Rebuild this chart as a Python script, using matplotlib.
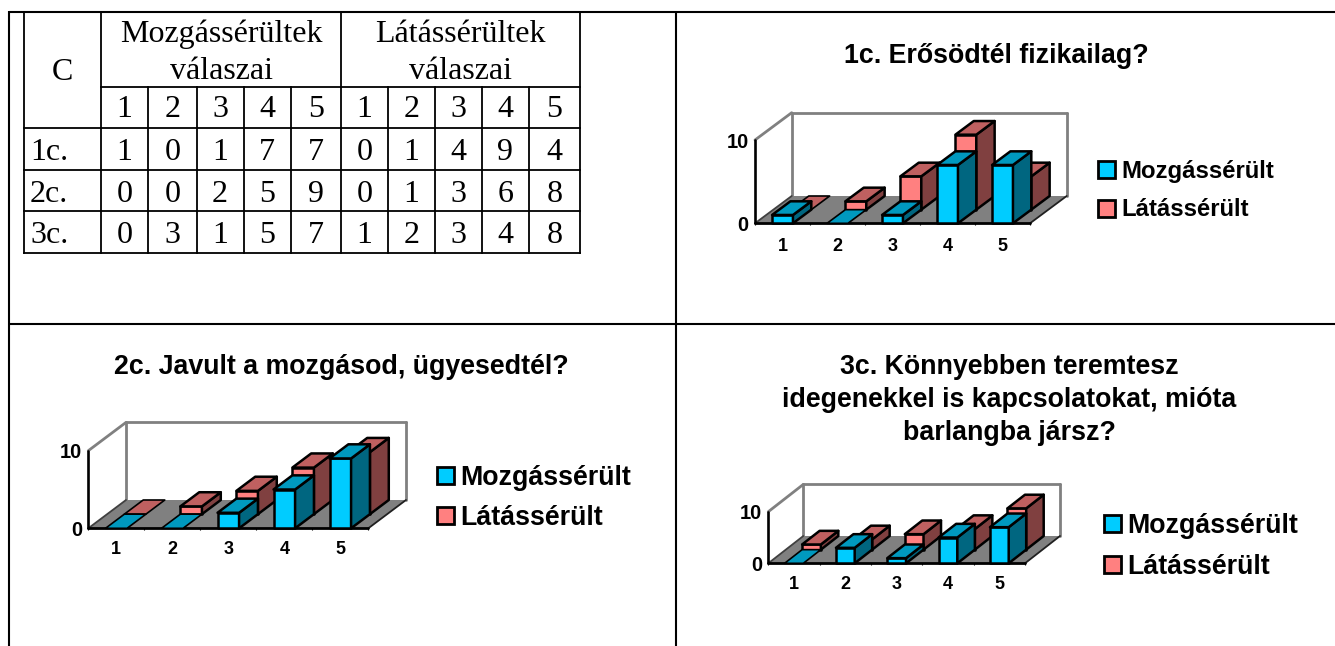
import matplotlib
matplotlib.use("Agg")
import matplotlib.pyplot as plt
from matplotlib.patches import Patch
from matplotlib.transforms import IdentityTransform

W, H = 1335, 646

# ---- data ----
categories = ["1", "2", "3", "4", "5"]
rows = ["1c.", "2c.", "3c."]
mozgas_1c = [1, 0, 1, 7, 7]
latas_1c = [0, 1, 4, 9, 4]
mozgas_2c = [0, 0, 2, 5, 9]
latas_2c = [0, 1, 3, 6, 8]
mozgas_3c = [0, 3, 1, 5, 7]
latas_3c = [1, 2, 3, 4, 8]
series_names = ["Mozgássérült", "Látássérült"]
header_mozgas = "Mozgássérültek\nválaszai"
header_latas = "Látássérültek\nválaszai"
title_1c = "1c. Erősödtél fizikailag?"
title_2c = "2c. Javult a mozgásod, ügyesedtél?"
title_3c = ["3c. Könnyebben teremtesz", "idegenekkel is kapcsolatokat, mióta", "barlangba jársz?"]

FRONT = ["#00CCFF", "#FF8080"]
TOP = ["#0099BF", "#BF6060"]
SIDE = ["#006680", "#804040"]
SANS = "Liberation Sans"
SERIF = "Liberation Serif"

fig = plt.figure(figsize=(W / 100, H / 100), dpi=100, facecolor="white")

# ---- page frame and table (pixel coordinates) ----
page = fig.add_axes([0, 0, 1, 1])
page.set_xlim(0, W)
page.set_ylim(H, 0)
page.axis("off")

for xs, ys in [((9, W), (11.5, 11.5)), ((9, 9), (11, H)), ((676, 676), (11, H)), ((9, W), (324, 324))]:
    page.plot(xs, ys, color="black", lw=1.5, solid_capstyle="butt")

col_x = [23.5, 101, 148, 196.5, 243.5, 290.5, 341, 388, 435, 482, 529, 580]
row_y = [12, 87, 127.5, 170, 211, 252.5]
TL = dict(color="black", lw=1.3, solid_capstyle="projecting")
page.plot([col_x[0], col_x[-1]], [row_y[0]] * 2, **TL)
page.plot([col_x[1], col_x[-1]], [row_y[1]] * 2, **TL)
for y in row_y[2:]:
    page.plot([col_x[0], col_x[-1]], [y, y], **TL)
for x in (col_x[0], col_x[1], col_x[6], col_x[11]):
    page.plot([x, x], [row_y[0], row_y[-1]], **TL)
for x in col_x[2:6] + col_x[7:11]:
    page.plot([x, x], [row_y[1], row_y[-1]], **TL)

TS = 23
tt = dict(family=SERIF, fontsize=TS, color="black", ha="center", va="baseline")
page.text(62.5, 80.5, "C", **tt)
for (a, b), hdr in (((col_x[1], col_x[6]), header_mozgas), ((col_x[6], col_x[11]), header_latas)):
    l1, l2 = hdr.split("\n")
    page.text((a + b) / 2, 42, l1, **tt)
    page.text((a + b) / 2, 79, l2, **tt)
for j in range(10):
    page.text((col_x[j + 1] + col_x[j + 2]) / 2, 117, categories[j % 5], **tt)
table_rows = [mozgas_1c + latas_1c, mozgas_2c + latas_2c, mozgas_3c + latas_3c]
for r, (name, vals) in enumerate(zip(rows, table_rows)):
    base = row_y[r + 2] + 32
    page.text(30, base, name, family=SERIF, fontsize=TS, ha="left", va="baseline")
    for j, v in enumerate(vals):
        page.text((col_x[j + 1] + col_x[j + 2]) / 2, base, str(v), **tt)

# ---- titles ----
bt = dict(family=SANS, weight="bold", fontsize=19.3, color="black", ha="center", va="baseline")
page.text(996, 63, title_1c, **bt)
page.text(341.5, 374, title_2c, **bt)
for y, line in zip((374, 407, 440), title_3c):
    page.text(1009, y, line, **bt)


def chart(x0, x1, y0, y10, dx, dy, moz, lat, bw, xpad, leg_xy, leg_fs, leg_space):
    ax = fig.add_axes([x0 / W, 1 - y0 / H, (x1 - x0) / W, (y0 - y10) / H])
    ax.patch.set_visible(False)
    ax.set_xlim(0, len(categories))
    ax.set_ylim(0, 10)
    ddx = dx / ((x1 - x0) / len(categories))
    ddy = dy / ((y0 - y10) / 10)

    def P(x, y, d):
        return x + d * ddx, y + d * ddy

    def poly(pts, fc, z, ec="none", lw=0):
        xs, ys = zip(*pts)
        ax.fill(xs, ys, facecolor=fc, edgecolor=ec, lw=lw, zorder=z, clip_on=False, joinstyle="round")

    def line(a, b, c, lw, z):
        ax.plot(*zip(a, b), color=c, lw=lw, zorder=z, clip_on=False, solid_capstyle="round")

    n = len(categories)
    # walls and floor
    poly([P(0, 0, 1), P(0, 10, 1), P(n, 10, 1), P(n, 0, 1)], "white", 1)
    poly([P(0, 0, 0), P(n, 0, 0), P(n, 0, 1), P(0, 0, 1)], "#808080", 2)
    G = "#808080"
    line(P(0, 0, 1), P(0, 10, 1), G, 2.0, 3)
    line(P(0, 10, 1), P(n, 10, 1), G, 2.0, 3)
    line(P(n, 10, 1), P(n, 0, 1), G, 2.0, 3)
    line(P(0, 10, 0), P(0, 10, 1), G, 2.0, 3)
    line(P(0, 0, 0), P(0, 0, 1), "#404040", 1.3, 3)
    line(P(n, 0, 0), P(n, 0, 1), "#202020", 1.3, 3)
    line(P(0, 0, 0), P(0, 10, 0), "black", 1.9, 4)
    line(P(0, 0, 0), P(n, 0, 0), "black", 2.0, 4)

    # bars: back series first, then front series
    z = 10
    for s, vals in ((1, lat), (0, moz)):
        d0, d1 = s * 0.5, (s + 1) * 0.5
        for i, v in enumerate(vals):
            a, b = i + 0.5 - bw / 2, i + 0.5 + bw / 2
            kw = dict(ec="black", lw=1.8)
            if v > 0:
                poly([P(a, 0, d0), P(b, 0, d0), P(b, v, d0), P(a, v, d0)], FRONT[s], z, **kw)
                poly([P(b, 0, d0), P(b, 0, d1), P(b, v, d1), P(b, v, d0)], SIDE[s], z, **kw)
                poly([P(a, v, d0), P(b, v, d0), P(b, v, d1), P(a, v, d1)], TOP[s], z, **kw)
            else:
                poly([P(a, 0, d0), P(b, 0, d0), P(b, 0, d1), P(a, 0, d1)], TOP[s], z, ec="black", lw=1.2)
            z += 1

    for sp in ax.spines.values():
        sp.set_visible(False)
    ax.set_xticks([i + 0.5 for i in range(n)], categories)
    ax.set_yticks([0, 10], ["0", "10"])
    ax.set_xticks(range(n + 1), minor=True)
    ax.tick_params(axis="x", which="major", length=0, pad=xpad)
    ax.tick_params(axis="x", which="minor", length=1.5, width=0.8, color="black")
    ax.tick_params(axis="y", length=0, pad=4.5)
    for t in ax.get_xticklabels():
        t.set(family=SANS, weight="bold", fontsize=13, color="black")
    for t in ax.get_yticklabels():
        t.set(family=SANS, weight="bold", fontsize=14.5, color="black")

    handles = [
        Patch(facecolor=FRONT[0], edgecolor="black", lw=2),
        Patch(facecolor=FRONT[1], edgecolor="black", lw=2),
    ]
    px = leg_fs * 100 / 72
    leg = ax.legend(
        handles, series_names, loc="upper left",
        bbox_to_anchor=(leg_xy[0], H - leg_xy[1]), bbox_transform=IdentityTransform(),
        frameon=False, borderpad=0, borderaxespad=0,
        handlelength=17 / px, handleheight=17 / px, handletextpad=6 / px,
        labelspacing=leg_space / px,
        prop={"family": SANS, "weight": "bold", "size": leg_fs},
    )
    leg.set_zorder(50)
    return ax


chart(755, 1030, 223.3, 140, 36.7, 27.3, mozgas_1c, latas_1c, 0.38, 10.5, (1098, 160), 17.2, 15.5)
chart(88.3, 368.3, 528.3, 450.7, 37.7, 28.3, mozgas_2c, latas_2c, 0.385, 9.5, (437, 465), 19.3, 14)
chart(768.3, 1025, 563.3, 511.7, 35, 27.3, mozgas_3c, latas_3c, 0.365, 9, (1104, 513), 19.3, 15)

fig.savefig("out.png", dpi=100, facecolor="white")
